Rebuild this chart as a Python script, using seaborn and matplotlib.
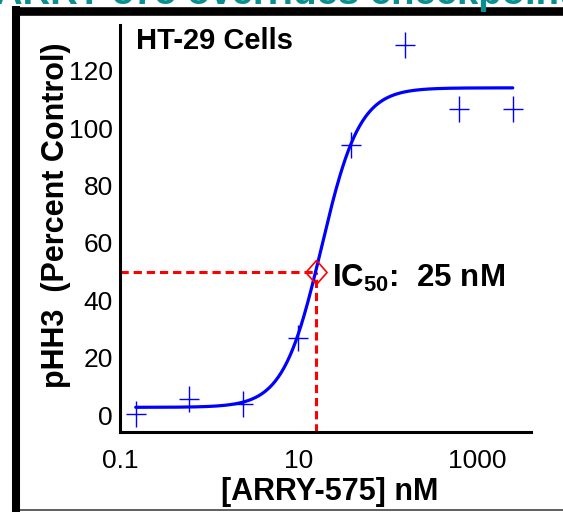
import numpy as np
import pandas as pd
import matplotlib
matplotlib.use("Agg")
import matplotlib.pyplot as plt
from matplotlib.lines import Line2D
from matplotlib.path import Path
from matplotlib.ticker import FixedLocator, NullFormatter
import seaborn as sns

# ARRY-575 dose (nM), 4-fold dilutions
conc_nm = [0.15, 0.6, 2.4, 9.8, 39, 156, 625, 2500]
phh3_pct = [0.4, 5.5, 3.7, 27, 94, 129, 106.5, 106.5]

# four-parameter logistic fit drawn as the solid curve
fit_bottom = 2.7
fit_top = 114.0
fit_ec50 = 18.0
fit_hill = 2.03

# point where the dashed guides meet the curve
ic50_x = 15.5
ic50_y = 50

xticks_major = [0.1, 10, 1000]
xticks_minor = [1, 100]
xtick_labels = ["0.1", "10", "1000"]
yticks_major = [0, 20, 40, 60, 80, 100, 120]
yticks_minor = [10, 30, 50, 70, 90, 110, 130]

title_text = "ARRY-575 overrides checkpoint"
panel_text = "HT-29 Cells"
ic50_text = r"IC$_{50}$:  25 nM"

sns.set_theme(style="white", rc={"text.color": "black", "axes.labelcolor": "black",
                                 "xtick.color": "black", "ytick.color": "black"})
plt.rcParams["font.family"] = ["Liberation Sans", "DejaVu Sans"]
plt.rcParams["mathtext.fontset"] = "custom"
plt.rcParams["mathtext.rm"] = "Liberation Sans:bold"
plt.rcParams["mathtext.it"] = "Liberation Sans:bold"
plt.rcParams["mathtext.bf"] = "Liberation Sans:bold"

W, H = 563, 512
fig = plt.figure(figsize=(W / 100, H / 100), dpi=100)
ax = fig.add_axes([120 / W, 1 - 432 / H, 411 / W, 407 / H])

df = pd.DataFrame({"conc": conc_nm, "phh3": phh3_pct})

# fitted curve
xs = np.logspace(np.log10(conc_nm[0]), np.log10(conc_nm[-1]), 400)
ys = fit_bottom + (fit_top - fit_bottom) / (1 + (fit_ec50 / xs) ** fit_hill)
sns.lineplot(x=xs, y=ys, ax=ax, color="#0000ff", linewidth=2.3, zorder=3)

# data points: plus markers slightly taller than wide
plus = Path([(-0.39, 0), (0.39, 0), (0, -0.5), (0, 0.5)],
            [Path.MOVETO, Path.LINETO, Path.MOVETO, Path.LINETO])
sns.scatterplot(data=df, x="conc", y="phh3", ax=ax, marker=plus, s=19 ** 2,
                color="#0000ff", edgecolor="#0000ff", linewidth=1.0, zorder=4)

# IC50 guides
ax.plot([0.1, ic50_x * 0.93], [ic50_y, ic50_y], color="#ff0000", lw=2.2,
        dashes=(2.7, 1.6), zorder=2)
ax.plot([ic50_x, ic50_x], [-5.9, ic50_y], color="#ff0000", lw=2.2,
        dashes=(2.7, 1.6), zorder=2)
diamond = Path([(0, 0.5), (0.44, 0), (0, -0.5), (-0.44, 0), (0, 0.5)],
               [Path.MOVETO, Path.LINETO, Path.LINETO, Path.LINETO, Path.CLOSEPOLY])
ax.plot([ic50_x], [ic50_y], marker=diamond, ms=17.3, mfc="none", mec="#ff0000",
        mew=1.2, zorder=5)
ax.annotate(ic50_text, xy=(ic50_x, ic50_y), xytext=(11.5, -10.8),
            textcoords="offset points", ha="left", va="baseline",
            fontsize=22.5, fontweight="bold", color="black")

ax.text(16 / 411, (432 - 49.3) / 407, panel_text, transform=ax.transAxes,
        ha="left", va="baseline", fontsize=21, fontweight="bold", color="black")

ax.set_xscale("log")
ax.set_xlim(0.1, 4000)
ax.set_ylim(-5.9, 135.9)
ax.xaxis.set_major_locator(FixedLocator(xticks_major))
ax.xaxis.set_minor_locator(FixedLocator(xticks_minor))
ax.xaxis.set_minor_formatter(NullFormatter())
ax.set_xticklabels(xtick_labels)
ax.yaxis.set_major_locator(FixedLocator(yticks_major))
ax.yaxis.set_minor_locator(FixedLocator(yticks_minor))

ax.tick_params(axis="both", which="major", direction="in", length=10, width=2.2,
               labelsize=19, color="black", labelcolor="black")
ax.tick_params(axis="both", which="minor", direction="in", length=7, width=2.2,
               color="black")
ax.tick_params(axis="x", which="major", pad=12)
ax.tick_params(axis="y", which="major", pad=5)

for side in ["top", "right"]:
    ax.spines[side].set_visible(False)
for side in ["left", "bottom"]:
    ax.spines[side].set_linewidth(2.2)
    ax.spines[side].set_color("black")

ax.set_xlabel("[ARRY-575] nM", fontsize=22, fontweight="bold", color="black")
ax.set_ylabel("pHH3  (Percent Control)", fontsize=22, fontweight="bold", color="black")
ax.xaxis.set_label_coords(210 / 411, (432 - 477) / 407)
ax.yaxis.set_label_coords((71 - 120) / 411, (432 - 215) / 407)

# slide frame and the cut-off slide title above it
fig.add_artist(Line2D([16 / W, 16 / W], [1 - 6 / H, 0], color="black", lw=5.8,
                      solid_capstyle="butt", transform=fig.transFigure))
fig.add_artist(Line2D([12 / W, 1], [1 - 10.5 / H, 1 - 10.5 / H], color="black",
                      lw=6.2, solid_capstyle="butt", transform=fig.transFigure))
fig.add_artist(Line2D([20 / W, 1], [1 - 509.5 / H, 1 - 509.5 / H], color="#444444",
                      lw=1.2, solid_capstyle="butt", transform=fig.transFigure))
fig.text(-5 / W, 1 - 4 / H, title_text, ha="left", va="baseline", fontsize=27.5,
         fontweight="bold", color="#0a8f8f", zorder=10)

fig.savefig("out.png", dpi=100)
